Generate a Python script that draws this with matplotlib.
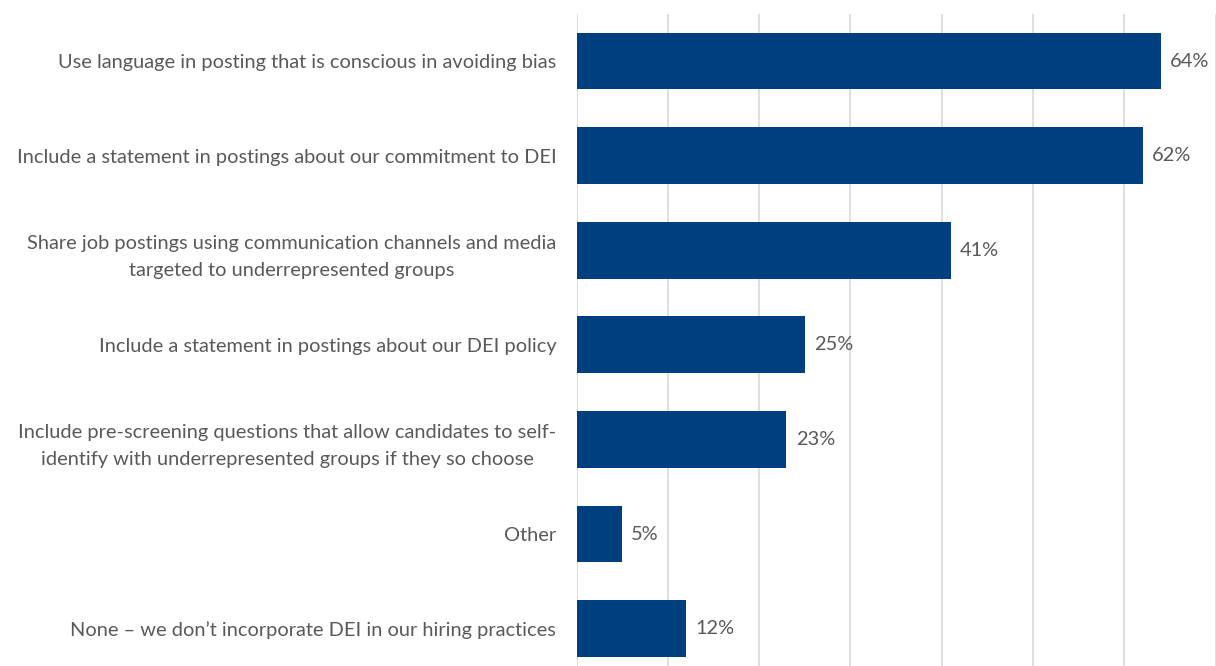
import matplotlib
matplotlib.use("Agg")
import matplotlib.pyplot as plt

categories = [
    "Use language in posting that is conscious in avoiding bias",
    "Include a statement in postings about our commitment to DEI",
    "Share job postings using communication channels and media\ntargeted to underrepresented groups",
    "Include a statement in postings about our DEI policy",
    "Include pre-screening questions that allow candidates to self-\nidentify with underrepresented groups if they so choose",
    "Other",
    "None \u2013 we don\u2019t incorporate DEI in our hiring practices",
]
values = [64, 62, 41, 25, 23, 5, 12]

BAR_COLOR = "#003f7f"
TEXT_COLOR = "#595959"
GRID_COLOR = "#d9d9d9"
FONT = ["Lato", "DejaVu Sans"]
FS = 14.4

W, H = 1216, 666
fig = plt.figure(figsize=(W / 100, H / 100), dpi=100)
left_px, right_px, top_px, bottom_px = 576.5, 1216, 13.7, 676
ax = fig.add_axes([left_px / W, (H - bottom_px) / H,
                   (right_px - left_px) / W, (bottom_px - top_px) / H])

y = list(range(len(categories)))
ax.barh(y, values, height=0.6, color=BAR_COLOR, zorder=3)
ax.set_ylim(len(categories) - 0.5, -0.5)
ax.set_xlim(0, 70.05)

ax.set_xticks(range(0, 80, 10))
ax.xaxis.grid(True, color=GRID_COLOR, linewidth=1.2, zorder=0)
ax.tick_params(axis="x", bottom=False, labelbottom=False)
ax.tick_params(axis="y", left=False, pad=11)
for s in ax.spines.values():
    s.set_visible(False)

ax.set_yticks(y)
ax.set_yticklabels(categories, fontsize=FS, color=TEXT_COLOR, family=FONT)
for lbl in ax.get_yticklabels():
    lbl.set_multialignment("center")
    lbl.set_linespacing(1.7)

for yi, v in zip(y, values):
    ax.text(v + 1.0, yi, f"{v}%", va="center", ha="left",
            fontsize=FS, color=TEXT_COLOR, family=FONT)

fig.savefig("out.png", dpi=100, facecolor="white")
